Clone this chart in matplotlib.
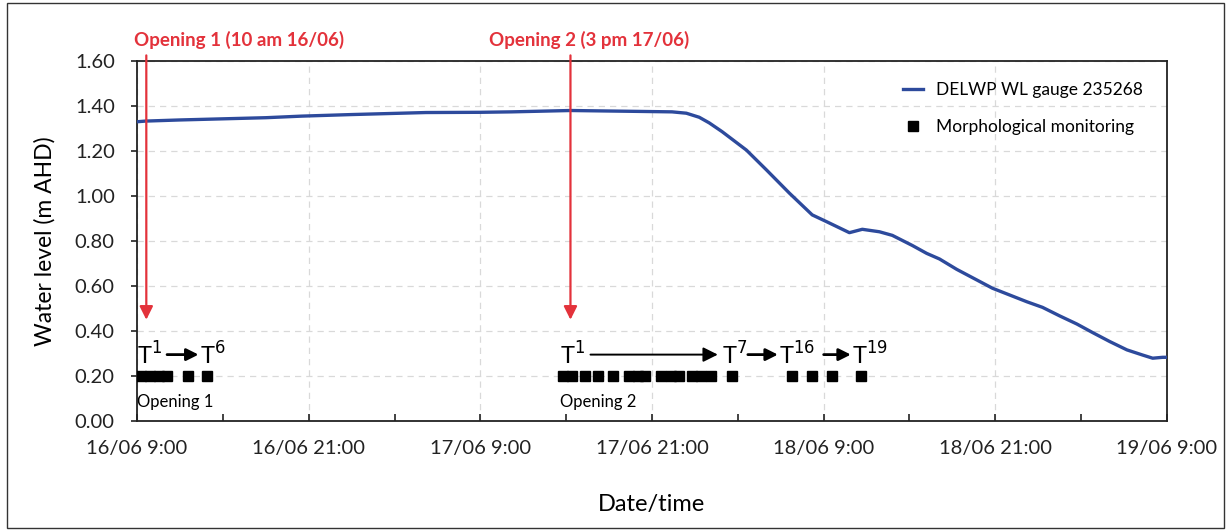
import matplotlib
matplotlib.use("Agg")
import matplotlib.pyplot as plt
from matplotlib.patches import Rectangle

plt.rcParams['font.family'] = ['Lato', 'DejaVu Sans']

# temps en heures depuis 16/06 9:00, niveau en m AHD
heures = [0, 0.6, 3, 6, 9, 11.5, 15, 20.2, 24, 26.2, 30.3, 35.1, 37.4, 38.4, 39.3,
          40.0, 40.9, 42.6, 44.0, 45.6, 47.2, 48.2, 49.8, 50.7, 51.9, 52.8, 54.2, 55.2,
          56.1, 57.3, 58.7, 59.8, 61.0, 62.2, 63.3, 64.5, 65.7, 66.8, 68.0, 69.2,
          70.3, 71.0, 71.7, 72.0]
niveau = [1.330, 1.333, 1.338, 1.343, 1.348, 1.355, 1.362, 1.371, 1.372, 1.374, 1.380,
          1.376, 1.374, 1.368, 1.350, 1.325, 1.286, 1.204, 1.116, 1.013, 0.916, 0.886,
          0.837, 0.852, 0.841, 0.825, 0.780, 0.745, 0.720, 0.674, 0.627, 0.590, 0.560,
          0.530, 0.505, 0.467, 0.431, 0.393, 0.353, 0.316, 0.293, 0.279, 0.283, 0.283]

# campagnes de suivi morphologique
suivi_ouverture_1 = [0.31, 0.91, 1.54, 2.13, 3.53, 4.90]
suivi_ouverture_2 = [29.8, 30.4, 31.3, 32.2, 33.3, 34.4, 35.0, 35.5, 36.6, 37.3, 37.9,
                     38.8, 39.4, 40.1, 41.6, 45.8, 47.2, 48.6, 50.6]
niveau_suivi = 0.20

ouvertures = [0.65, 30.3]
textes_ouvertures = ["Opening 1 (10 am 16/06)", "Opening 2 (3 pm 17/06)"]
debut_textes = [-0.2, 24.6]

ticks_x = [0, 12, 24, 36, 48, 60, 72]
labels_x = ["16/06 9:00", "16/06 21:00", "17/06 9:00", "17/06 21:00",
            "18/06 9:00", "18/06 21:00", "19/06 9:00"]
ticks_y = [0.0, 0.2, 0.4, 0.6, 0.8, 1.0, 1.2, 1.4, 1.6]

rouge = '#E3323B'
bleu = '#2D4A9C'

fig = plt.figure(figsize=(12.31, 5.31), dpi=100)
ax = fig.add_axes([0.1113, 0.2072, 0.8367, 0.6779])

ax.plot(heures, niveau, color=bleu, linewidth=2.4, label="DELWP WL gauge 235268", zorder=3)
ax.plot(suivi_ouverture_1 + suivi_ouverture_2,
        [niveau_suivi] * (len(suivi_ouverture_1) + len(suivi_ouverture_2)),
        linestyle='none', marker='s', markersize=6.5, color='black',
        label="Morphological monitoring", zorder=3)

ax.set_xlim(0, 72)
ax.set_ylim(0, 1.6)
ax.set_xticks(ticks_x)
ax.set_xticklabels(labels_x)
ax.set_xticks([6, 18, 30, 42, 54, 66], minor=True)
ax.set_yticks(ticks_y)
ax.set_yticklabels([f"{v:.2f}" for v in ticks_y])
ax.tick_params(axis='both', which='both', direction='in', labelsize=14.5, length=5,
               width=1.2, colors='#222222')
ax.tick_params(axis='x', pad=14)
ax.tick_params(axis='y', direction='out', length=4, pad=12)
for s in ax.spines.values():
    s.set_linewidth(1.3)
    s.set_color('#222222')

ax.grid(True, axis='both', which='major', linestyle=(0, (5, 4)), color='#D9D9D9', linewidth=0.9)
ax.set_axisbelow(True)

ax.set_ylabel("Water level (m AHD)", fontsize=16.5, labelpad=14)
ax.set_xlabel("Date/time", fontsize=17, labelpad=26)

# fleches des ouvertures
for t, t0, texte in zip(ouvertures, debut_textes, textes_ouvertures):
    ax.annotate("", xy=(t, 0.45), xytext=(t, 1.625), xycoords='data',
                arrowprops=dict(arrowstyle='-|>', color=rouge, lw=1.6,
                                mutation_scale=20, shrinkA=0, shrinkB=0),
                annotation_clip=False)
    ax.text(t0, 1.695, texte, color=rouge, fontsize=13.5, fontweight='bold',
            ha='left', va='center', clip_on=False)

# etiquettes T
y_t = 0.295
ax.text(0.0, y_t, "T$^{1}$", fontsize=17, ha='left', va='center')
ax.annotate("", xy=(4.3, y_t), xytext=(2.1, y_t),
            arrowprops=dict(arrowstyle='-|>', color='black', lw=2, mutation_scale=18,
                            shrinkA=0, shrinkB=0))
ax.text(4.4, y_t, "T$^{6}$", fontsize=17, ha='left', va='center')

ax.text(29.6, y_t, "T$^{1}$", fontsize=17, ha='left', va='center')
ax.annotate("", xy=(40.6, y_t), xytext=(31.7, y_t),
            arrowprops=dict(arrowstyle='-|>', color='black', lw=1.4, mutation_scale=22,
                            shrinkA=0, shrinkB=0))
ax.text(40.9, y_t, "T$^{7}$", fontsize=17, ha='left', va='center')
ax.annotate("", xy=(44.8, y_t), xytext=(42.7, y_t),
            arrowprops=dict(arrowstyle='-|>', color='black', lw=2, mutation_scale=18,
                            shrinkA=0, shrinkB=0))
ax.text(44.9, y_t, "T$^{16}$", fontsize=17, ha='left', va='center')
ax.annotate("", xy=(49.9, y_t), xytext=(48.0, y_t),
            arrowprops=dict(arrowstyle='-|>', color='black', lw=2, mutation_scale=18,
                            shrinkA=0, shrinkB=0))
ax.text(50.0, y_t, "T$^{19}$", fontsize=17, ha='left', va='center')

ax.text(0.0, 0.085, "Opening 1", fontsize=12, ha='left', va='center')
ax.text(29.6, 0.085, "Opening 2", fontsize=12, ha='left', va='center')

ax.legend(loc='upper right', frameon=False, fontsize=12.5, handlelength=1.2,
          handletextpad=0.7, labelspacing=1.2, bbox_to_anchor=(0.993, 0.99),
          borderaxespad=0.6)

fig.patches.append(Rectangle((0.006, 0.006), 0.988, 0.988, transform=fig.transFigure,
                             fill=False, edgecolor='#333333', linewidth=1.0))

fig.savefig("out.png", dpi=100)
